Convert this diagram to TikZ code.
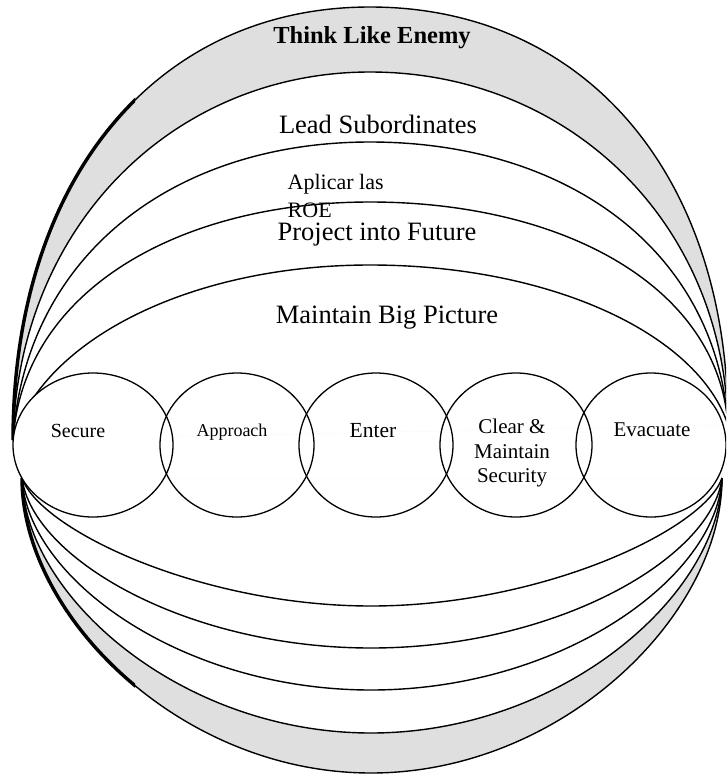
\documentclass[tikz,border=0pt]{standalone}
\usepackage{fontspec}
\setmainfont{Liberation Serif}
\usetikzlibrary{shapes.geometric}
% upper arc of a layer: top height #1, left bulge #2, #3, top flatness #4
\newcommand{\toparc}[4]{(13,440)
  .. controls ({13+#2},{440-#3}) and ({370-#4},{#1}) .. (370,{#1})
  .. controls ({370+#4},{#1}) and ({728-#2},{425-(#3/(440-#1))*(425-#1)}) .. (728,425)}
% lower arc of a layer: bottom height #1
\newcommand{\botarc}[4]{(22,478)
  .. controls ({22+#2},{478+#3}) and ({371-#4},{#1}) .. (371,{#1})
  .. controls ({371+#4},{#1}) and ({722-#2},{478+#3}) .. (722,478)}
\begin{document}
\begin{tikzpicture}[x=1pt,y=-1pt,line width=1.4pt,
  phase/.style={draw,ellipse,inner sep=0pt,line width=1.3pt},
  lbl/.style={inner sep=0pt,align=center},
  band/.style={fill=gray!25,even odd rule}]
\useasboundingbox (0,0) rectangle (726,774);
\clip (0,0) rectangle (726,774);
% shaded outer band (top and bottom)
\fill[band] \toparc{7}{0}{260}{214} -- cycle \toparc{72}{5}{215}{196} -- cycle;
\fill[band] \botarc{773}{0}{138}{190} -- cycle \botarc{733}{2}{118}{190} -- cycle;
% dark left edge of the outer band
\begin{scope}
  \clip (0,0) rectangle (135,774);
  \draw[line width=3.4pt] \toparc{7}{0}{260}{214};
  \draw[line width=3.4pt] \botarc{773}{0}{138}{190};
\end{scope}
% layer arcs, upper halves
\draw \toparc{7}{0}{260}{214};
\draw \toparc{72}{5}{215}{196};
\draw \toparc{142}{12}{185}{196};
\draw \toparc{202}{10}{150}{190};
\draw \toparc{265}{30}{100}{180};
% layer arcs, lower halves
\draw \botarc{773}{0}{138}{190};
\draw \botarc{733}{2}{118}{190};
\draw \botarc{690}{5}{100}{190};
\draw \botarc{648}{10}{80}{185};
\draw \botarc{606}{18}{52}{170};
% phase circles
\node[phase,fill=white,minimum width=160pt,minimum height=144pt] (secure) at (93,445) {};
\node[phase,minimum width=154pt,minimum height=144pt] (approach) at (237,445) {};
\node[phase,minimum width=154pt,minimum height=144pt] (enter) at (376,445) {};
\node[phase,minimum width=152pt,minimum height=144pt] (clear) at (516,445) {};
\node[phase,minimum width=150pt,minimum height=144pt] (evac) at (651,445) {};
% phase labels
\node[lbl,font=\fontsize{20}{24}\selectfont] (tsecure) at (78,431) {Secure};
\node[lbl,font=\fontsize{18}{22}\selectfont] (tapproach) at (232,432) {Approach};
\node[lbl,font=\fontsize{21.5}{25}\selectfont] (tenter) at (373,431) {Enter};
\node[lbl,font=\fontsize{21}{24.5}\selectfont] (tclear) at (512,453) {Clear \&\\Maintain\\Security};
\node[lbl,font=\fontsize{21}{25}\selectfont] (tevac) at (652,430) {Evacuate};
% layer labels
\node[lbl,font=\fontsize{24.5}{28}\selectfont\bfseries] (think) at (372,38) {Think Like Enemy};
\node[lbl,font=\fontsize{26.5}{30}\selectfont] (lead) at (378,124) {Lead Subordinates};
\node[lbl,anchor=west,font=\fontsize{22}{26}\selectfont] (aplicar) at (287,184) {Aplicar las};
\node[lbl,anchor=west,font=\fontsize{22}{26}\selectfont] (roe) at (287,210) {ROE};
\node[lbl,font=\fontsize{26.5}{30}\selectfont] (project) at (377,235) {Project into Future};
\node[lbl,font=\fontsize{26.5}{30}\selectfont] (bigpic) at (387,318) {Maintain Big Picture};
\end{tikzpicture}
\end{document}
